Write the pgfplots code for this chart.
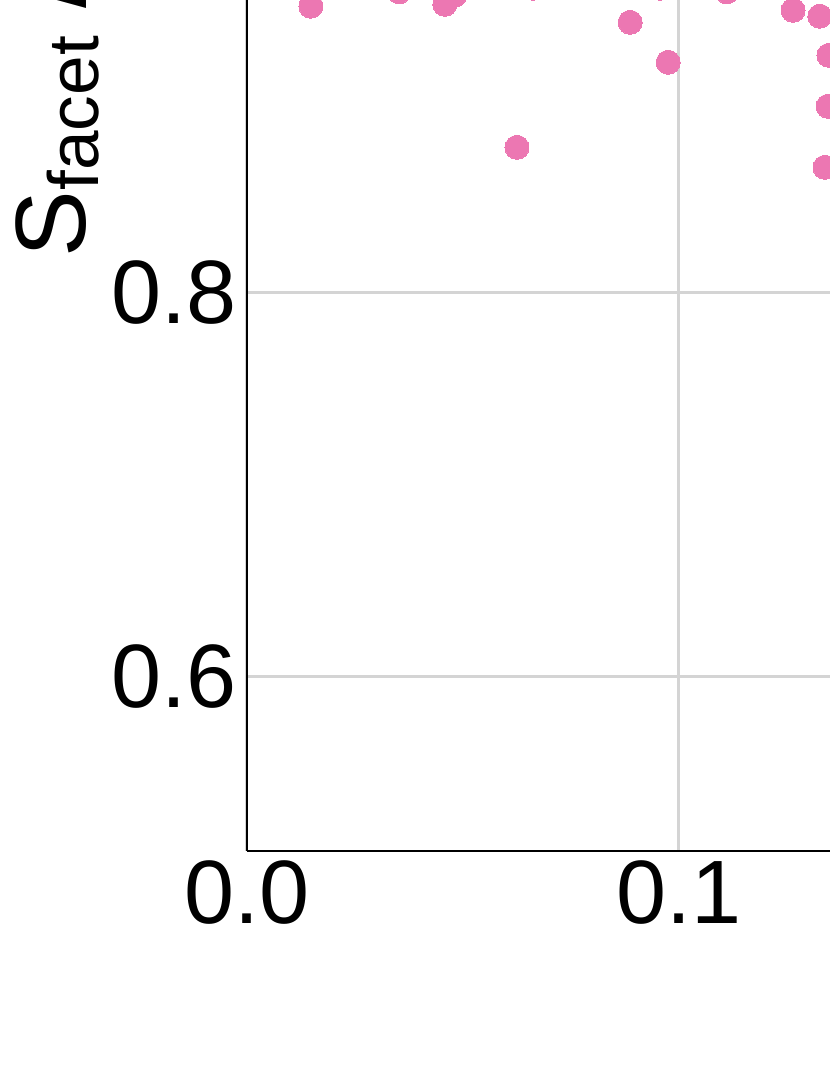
\documentclass[border=0pt]{standalone}
\usepackage{fontspec}
\setmainfont{Liberation Sans}
\usepackage{pgfplots}
\pgfplotsset{compat=1.18}

\definecolor{dotpink}{HTML}{EC77B2}
\definecolor{gridgray}{HTML}{D4D4D4}

% 1 px of the reference = 0.25pt; the axis runs on past the right and top edges
\begin{document}
\begin{tikzpicture}
  \begin{axis}[
      at={(61.75pt,56pt)}, anchor=south west,
      scale only axis,
      width=216pt, height=235.68pt,
      xmin=0, xmax=0.2,
      ymin=0.509, ymax=1.0,
      axis lines*=left,
      axis line style={line width=0.4pt},
      grid=major,
      major grid style={draw=gridgray, line width=0.75pt},
      xtick={0,0.1},
      ytick={0.6,0.8},
      major tick length=0pt,
      scaled ticks=false,
      /pgf/number format/assume math mode=true,
      /pgf/number format/fixed,
      /pgf/number format/fixed zerofill,
      /pgf/number format/precision=1,
      tick label style={font=\fontsize{22.5}{27}\selectfont, inner sep=0pt},
      xticklabel style={yshift=-2.25pt},
      yticklabel style={xshift=-2.5pt},
      ylabel={S\raisebox{-3.25pt}{\fontsize{17.8}{20}\selectfont facet} / S\raisebox{-3.25pt}{\fontsize{17.8}{20}\selectfont total}},
      ylabel style={font=\fontsize{25}{30}\selectfont,
                    at={(axis description cs:-0.1875,0.629)},
                    anchor=base west, inner sep=0pt},
    ]
    \addplot[only marks, mark=*, mark size=3pt, color=dotpink,
             mark options={fill=dotpink, draw=dotpink, line width=0pt}] coordinates {
      (0.0148, 0.9490)
      (0.0352, 0.9565)
      (0.0458, 0.9500)
      (0.0481, 0.9547)
      (0.0662, 0.9583)
      (0.0625, 0.8755)
      (0.0887, 0.9406)
      (0.0975, 0.9198)
      (0.0956, 0.9583)
      (0.1111, 0.9565)
      (0.1264, 0.9469)
      (0.1326, 0.9438)
      (0.1347, 0.9234)
      (0.1345, 0.8969)
      (0.1338, 0.8651)
    };
  \end{axis}
  \pgfresetboundingbox
  \useasboundingbox (0,0) rectangle (207.5pt,268.75pt);
\end{tikzpicture}
\end{document}
